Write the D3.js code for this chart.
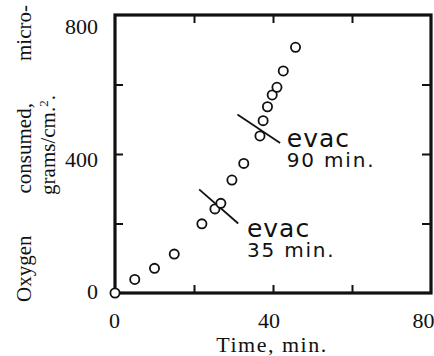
<!DOCTYPE html>
<html>
<head>
<meta charset="utf-8">
<script src="https://cdn.jsdelivr.net/npm/d3@7"></script>
<style>
  body { margin: 0; background: #fff; }
  svg { display: block; }
  .tick-label { font-family: "Liberation Serif", serif; font-size: 22px; fill: #111; }
  .note { font-family: "DejaVu Sans", sans-serif; fill: #111; }
</style>
</head>
<body>
<svg id="chart" width="434" height="356"></svg>
<script>
// Oxygen consumed vs time

var timeMin = [0, 5, 10, 15, 22, 25.3, 26.8, 29.6, 32.6, 36.7, 37.5, 38.6, 39.8, 41, 42.6, 45.7];
var oxygen = [0, 39, 71, 112, 199, 242, 258, 325, 373, 452, 496, 536, 570, 592, 639, 707];

var xTicks = [20, 40, 60];
var yTicks = [200, 400, 600];
var xLabels = [0, 40, 80];
var yLabels = [0, 400, 800];

// evacuation marks, each a short stroke across the curve
var evacLabels = ["evac", "evac"];
var evacTimes = ["35 min.", "90 min."];
var evac35 = [[21.3, 298], [31.2, 200]];
var evac90 = [[31, 514], [41.8, 432]];

var svg = d3.select("#chart");

var x = d3.scaleLinear().domain([0, 80]).range([115, 431]);
var y = d3.scaleLinear().domain([0, 800]).range([293, 15]);
// the printed numbers sit a little off the tick marks
var xLab = d3.scaleLinear().domain([0, 80]).range([114, 423]);
var yLab = d3.scaleLinear().domain([0, 800]).range([291, 26]);

// inner ticks on all four sides
svg.append("g")
  .attr("transform", "translate(0," + y(0) + ")")
  .call(d3.axisTop(x).tickValues(xTicks).tickSize(8).tickFormat(""))
  .call(function (g) { g.select(".domain").remove(); });
svg.append("g")
  .attr("transform", "translate(0," + y(800) + ")")
  .call(d3.axisBottom(x).tickValues(xTicks).tickSize(8).tickFormat(""))
  .call(function (g) { g.select(".domain").remove(); });
svg.append("g")
  .attr("transform", "translate(" + x(0) + ",0)")
  .call(d3.axisRight(y).tickValues(yTicks).tickSize(8).tickFormat(""))
  .call(function (g) { g.select(".domain").remove(); });
svg.append("g")
  .attr("transform", "translate(" + x(80) + ",0)")
  .call(d3.axisLeft(y).tickValues(yTicks).tickSize(9).tickFormat(""))
  .call(function (g) { g.select(".domain").remove(); });
svg.selectAll(".tick line").attr("stroke", "#111").attr("stroke-width", 2);

// frame
svg.append("rect")
  .attr("x", x(0))
  .attr("y", y(800))
  .attr("width", x(80) - x(0))
  .attr("height", y(0) - y(800))
  .attr("fill", "none")
  .attr("stroke", "#111")
  .attr("stroke-width", 3.2);

// tick labels
svg.append("g")
  .attr("transform", "translate(0,320)")
  .call(d3.axisBottom(xLab).tickValues(xLabels).tickSize(0).tickPadding(0))
  .call(function (g) { g.select(".domain").remove(); })
  .selectAll("text")
  .attr("class", "tick-label")
  .attr("dy", "0.35em");

svg.append("g")
  .attr("transform", "translate(98,0)")
  .call(d3.axisLeft(yLab).tickValues(yLabels).tickSize(0).tickPadding(0))
  .call(function (g) { g.select(".domain").remove(); })
  .selectAll("text")
  .attr("class", "tick-label")
  .attr("dy", "0.35em");

// axis titles
svg.append("text")
  .attr("class", "tick-label")
  .attr("x", 272)
  .attr("y", 352)
  .attr("text-anchor", "middle")
  .style("letter-spacing", "1.5px")
  .text("Time, min.");

// y title, first line justified between two ends
var line1 = ["Oxygen", "consumed,", "micro-"];
var t1 = svg.append("g").attr("transform", "translate(31,302) rotate(-90)");
var words = t1.selectAll("text")
  .data(line1)
  .enter()
  .append("text")
  .attr("class", "tick-label")
  .style("font-size", "21px")
  .text(function (d) { return d; });
var widths = [];
words.each(function () { widths.push(this.getComputedTextLength()); });
var span = 297;
var gap = (span - d3.sum(widths)) / (line1.length - 1);
var pos = 0;
words.attr("x", function (d, i) {
  var p = pos;
  pos += widths[i] + gap;
  return p;
});

svg.append("text")
  .attr("class", "tick-label")
  .style("font-size", "21px")
  .attr("transform", "translate(55,145) rotate(-90)")
  .attr("text-anchor", "middle")
  .html("grams/cm.<tspan dy='-7' font-size='13'>2</tspan><tspan dy='7'>.</tspan>");

// evac strokes
var line = d3.line()
  .x(function (d) { return x(d[0]); })
  .y(function (d) { return y(d[1]); });

svg.selectAll(".evac")
  .data([evac35, evac90])
  .enter()
  .append("path")
  .attr("class", "evac")
  .attr("d", line)
  .attr("stroke", "#111")
  .attr("stroke-width", 1.8)
  .attr("fill", "none");

// data points
svg.selectAll(".pt")
  .data(timeMin)
  .enter()
  .append("circle")
  .attr("class", "pt")
  .attr("cx", function (d) { return x(d); })
  .attr("cy", function (d, i) { return y(oxygen[i]); })
  .attr("r", 4.6)
  .attr("fill", "#fff")
  .attr("stroke", "#111")
  .attr("stroke-width", 1.8);

// notes
var notePos = [[33.4, 161, 104], [43.5, 420, 363]];
notePos.forEach(function (n, i) {
  svg.append("text")
    .attr("class", "note")
    .attr("x", x(n[0]))
    .attr("y", y(n[1]))
    .style("font-size", "25px")
    .style("letter-spacing", "1px")
    .text(evacLabels[i]);
  svg.append("text")
    .attr("class", "note")
    .attr("x", x(n[0]))
    .attr("y", y(n[2]))
    .style("font-size", "20px")
    .style("letter-spacing", "1.8px")
    .style("font-weight", "500")
    .text(evacTimes[i]);
});
</script>
</body>
</html>
